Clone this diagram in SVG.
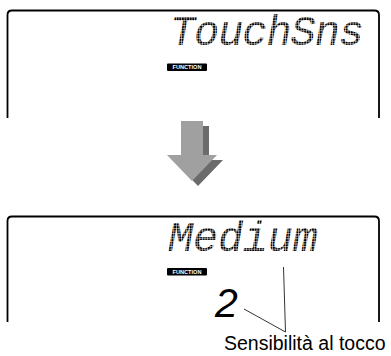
<svg xmlns="http://www.w3.org/2000/svg" width="391" height="356" viewBox="0 0 391 356">
  <defs>
    <pattern id="dots" patternUnits="userSpaceOnUse" width="2.6" height="2.6">
      <rect x="0" y="0" width="2.1" height="2.1" fill="#000"/>
    </pattern>
    <style>
      .panel { fill: none; stroke: #000; stroke-width: 1.8; }
      .lcd { font-family: "Liberation Mono", "DejaVu Sans Mono", monospace; font-style: italic; font-size: 42px; fill: url(#dots); }
      .fnbox { fill: #000; }
      .fntext { font-family: "Liberation Sans", Arial, sans-serif; font-weight: bold; font-size: 5.6px; fill: #fff; }
      .digit { font-family: "Liberation Sans", Arial, sans-serif; font-style: italic; font-size: 41px; fill: #000; }
      .label { font-family: "Liberation Sans", Arial, sans-serif; font-size: 19.5px; fill: #000; }
      .leader { fill: none; stroke: #000; stroke-width: 0.8; }
    </style>
  </defs>
  <rect width="391" height="356" fill="#fff"/>

  <g id="display-top">
    <path class="panel" d="M7.5,118 V15 Q7.5,10.5 12,10.5 H374.5 Q379,10.5 379,15 V118"/>
    <text class="lcd" x="170" y="45" textLength="194" lengthAdjust="spacing">TouchSns</text>
    <rect class="fnbox" x="167" y="63.5" width="40" height="7.5" rx="1"/>
    <text class="fntext" x="187" y="69.3" text-anchor="middle">FUNCTION</text>
  </g>

  <g id="arrow">
    <path fill="#6b6b6b" d="M187,126 H209 V160 H223 L198,186 L173,160 H187 Z"/>
    <path fill="#a0a0a0" d="M181,121 H203 V155 H217 L192,181 L167,155 H181 Z"/>
  </g>

  <g id="display-bottom">
    <path class="panel" d="M7.5,322 V221 Q7.5,216.5 12,216.5 H374.5 Q379,216.5 379,221 V322"/>
    <text class="lcd" x="168" y="251" textLength="150" lengthAdjust="spacing">Medium</text>
    <rect class="fnbox" x="167" y="268" width="40" height="7.5" rx="1"/>
    <text class="fntext" x="187" y="273.8" text-anchor="middle">FUNCTION</text>
    <text class="digit" x="215" y="317">2</text>
  </g>

  <g id="connectors">
    <polyline class="leader" points="244,309 285.5,332 283.5,267"/>
  </g>

  <g id="label">
    <text class="label" x="224" y="350">Sensibilità al tocco</text>
  </g>
</svg>
